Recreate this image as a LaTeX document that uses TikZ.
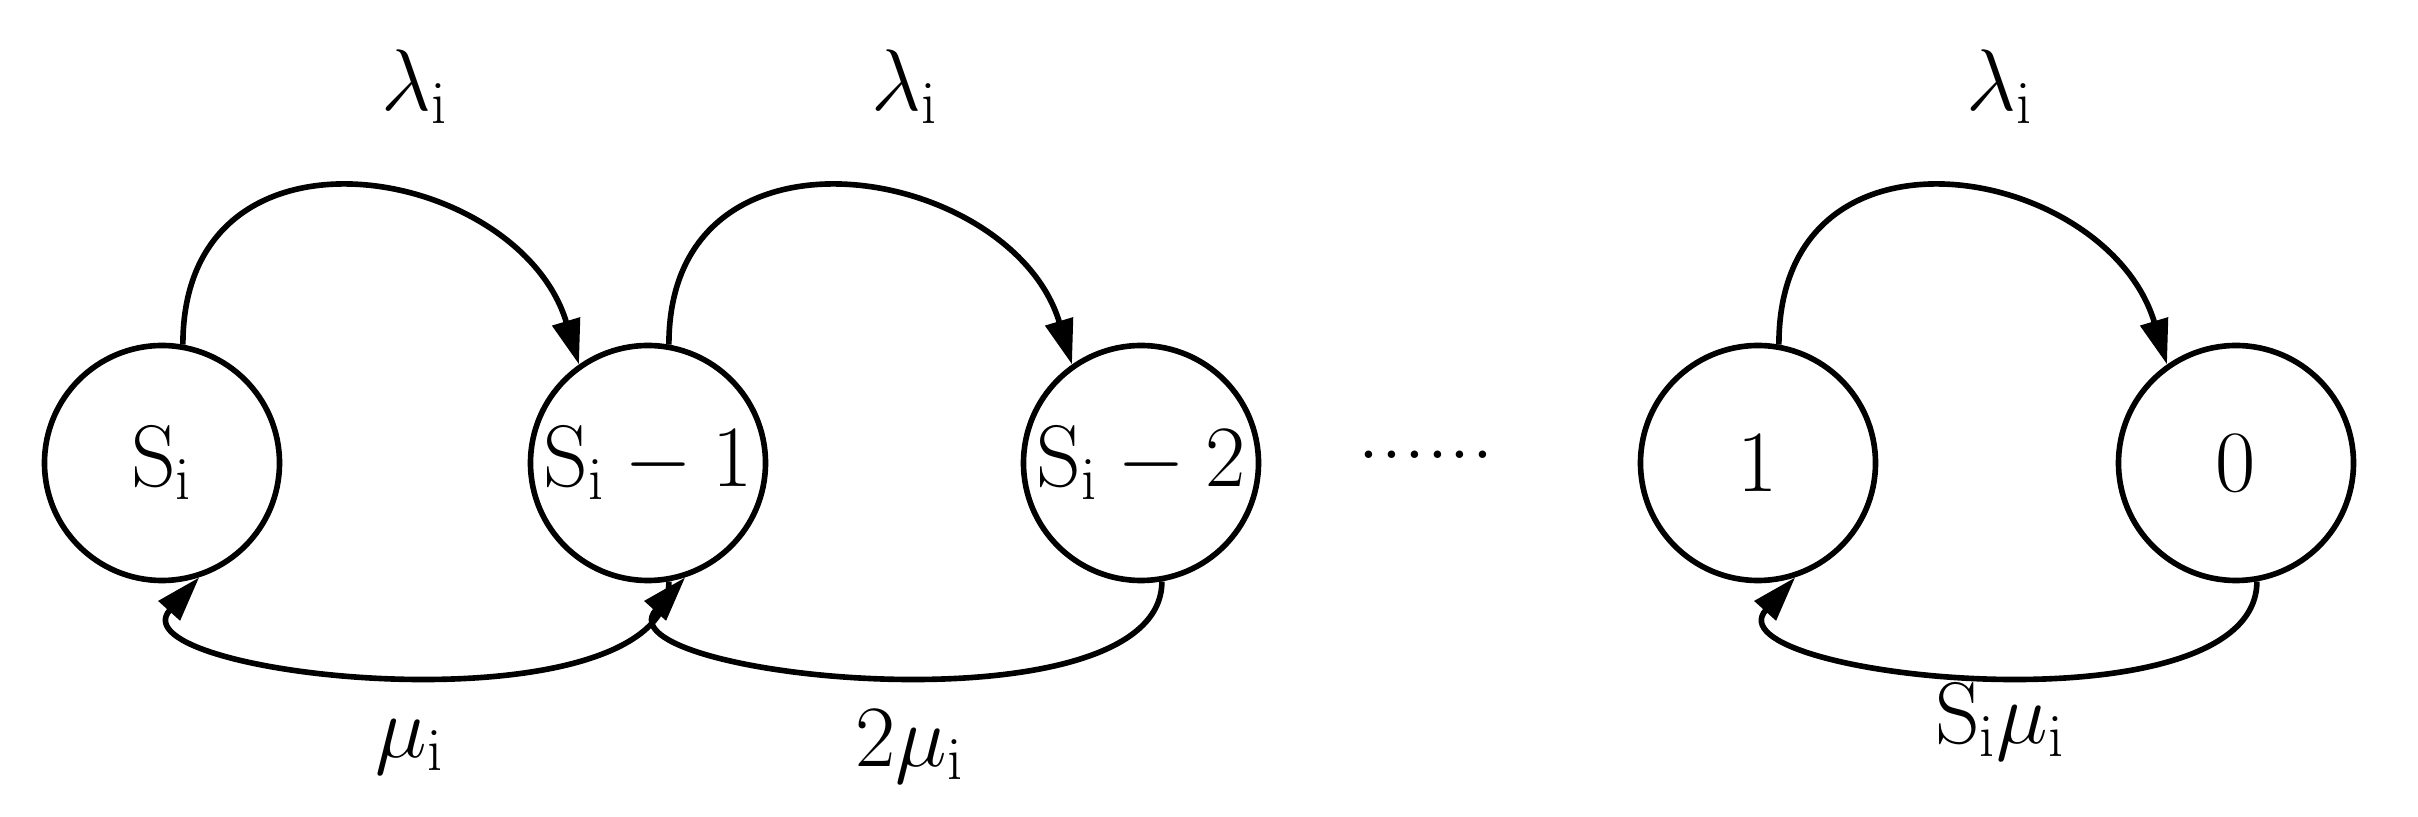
\documentclass[tikz,border=0pt]{standalone}
\usetikzlibrary{arrows.meta}
\begin{document}
\begin{tikzpicture}[
  st/.style={circle,draw,line width=1.6pt,minimum size=2.35cm,inner sep=0pt,font=\fontsize{26}{28}\selectfont},
  lab/.style={font=\fontsize{26}{28}\selectfont},
  arr/.style={line width=1.6pt,-{Triangle[length=0.45cm,width=0.28cm]}}]
\useasboundingbox (0,0) rectangle (24.18,8.17);
\node[st] (a) at (1.62,3.54) {$\mathrm{S_i}$};
\node[st] (b) at (6.48,3.54) {$\mathrm{S_i-1}$};
\node[st] (c) at (11.41,3.54) {$\mathrm{S_i-2}$};
\node[lab] (d) at (14.26,3.62) {......};
\node[st] (e) at (17.58,3.54) {$1$};
\node[st] (f) at (22.36,3.54) {$0$};
\foreach \u/\v in {a/b,b/c,e/f}{
  \draw[arr] (\u.80) .. controls ([yshift=2.4cm]\u.80) and ([xshift=-0.6cm,yshift=2.0cm]\v.125) .. (\v.125);
  \draw[arr] (\v.-80) .. controls ([yshift=-1.55cm]\v.-80) and ([xshift=-0.9cm,yshift=-1.0cm]\u.-72) .. (\u.-72);
}
\node[lab] (l1) at (4.15,7.3) {$\mathrm{\lambda_i}$};
\node[lab] (l2) at (9.05,7.3) {$\mathrm{\lambda_i}$};
\node[lab] (l3) at (20.0,7.3) {$\mathrm{\lambda_i}$};
\node[lab] (m1) at (4.1,0.7) {$\mathrm{\mu_i}$};
\node[lab] (m2) at (9.1,0.7) {$\mathrm{2\mu_i}$};
\node[lab] (m3) at (20.0,0.95) {$\mathrm{S_i\mu_i}$};
\end{tikzpicture}
\end{document}
